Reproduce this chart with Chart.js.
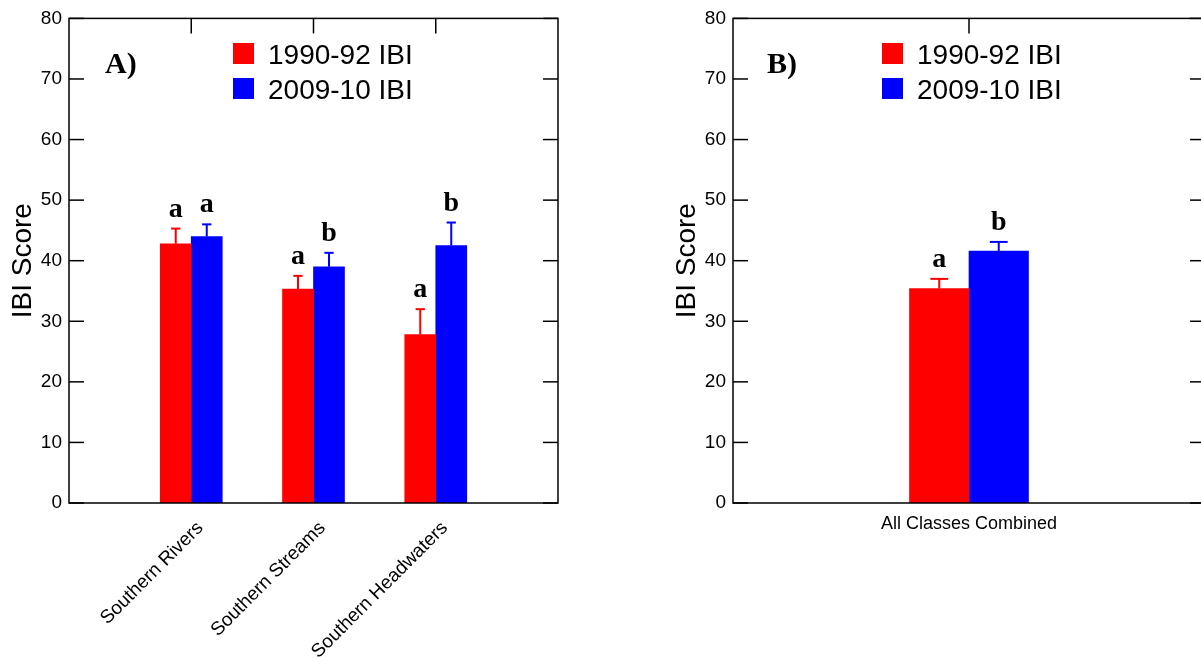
<!DOCTYPE html>
<html>
<head>
<meta charset="utf-8">
<script src="https://cdn.jsdelivr.net/npm/chart.js@4"></script>
<style>
  body { margin: 0; overflow: hidden; background: #fff; width: 1201px; height: 657px; }
  .panel { position: absolute; top: 0; }
</style>
</head>
<body>
<div class="panel" style="left:0"><canvas id="chartA" width="600" height="657"></canvas></div>
<div class="panel" style="left:600px"><canvas id="chartB" width="620" height="657"></canvas></div>
<script>
/* ---------- DATA ---------- */
const seriesLabels = ['1990-92 IBI', '2009-10 IBI'];
const yTicks = [0, 10, 20, 30, 40, 50, 60, 70, 80];

// Panel A: by stream class
const classesA = ['Southern Rivers', 'Southern Streams', 'Southern Headwaters'];
const ibi1990A = [42.8, 35.3, 27.8];
const ibi2009A = [44.0, 39.0, 42.5];
const err1990A = [2.5, 2.2, 4.2];
const err2009A = [2.0, 2.3, 3.8];
const sig1990A = ['a', 'a', 'a'];
const sig2009A = ['a', 'b', 'b'];

// Panel B: all classes combined
const classesB = ['All Classes Combined'];
const ibi1990B = [35.4];
const ibi2009B = [41.6];
const err1990B = [1.6];
const err2009B = [1.5];
const sig1990B = ['a'];
const sig2009B = ['b'];

const RED = '#ff0000';
const BLUE = '#0000ff';
const SANS = "'Liberation Sans', Arial, sans-serif";
const SERIF = "'Liberation Serif', 'Times New Roman', serif";

Chart.defaults.font.family = SANS;
Chart.defaults.color = '#000';

/* ---------- FRAME, ERROR BARS, LETTERS, LEGEND ---------- */
const figureMarks = {
  id: 'figureMarks',
  afterDatasetsDraw(chart, args, opts) {
    const { ctx, chartArea: a, scales: { x, y } } = chart;
    const line = (x1, y1, x2, y2) => {
      ctx.beginPath(); ctx.moveTo(x1, y1); ctx.lineTo(x2, y2); ctx.stroke();
    };
    ctx.save();

    // error bars + significance letters
    chart.data.datasets.forEach((ds, di) => {
      const meta = chart.getDatasetMeta(di);
      meta.data.forEach((bar, i) => {
        const v = ds.data[i];
        if (v == null) return;
        const { x: bx, width } = bar.getProps(['x', 'width'], true);
        const top = y.getPixelForValue(v + ds.errors[i]);
        const base = y.getPixelForValue(v);
        const cap = width * 0.15;
        ctx.strokeStyle = ds.backgroundColor;
        ctx.lineWidth = 2;
        line(bx, base, bx, top);
        line(bx - cap, top, bx + cap, top);
        ctx.fillStyle = '#000';
        ctx.font = 'bold 28px ' + SERIF;
        ctx.textAlign = 'center';
        ctx.textBaseline = 'alphabetic';
        ctx.fillText(ds.letters[i], bx, top - 12);
      });
    });

    // box frame with inward ticks
    ctx.strokeStyle = '#000';
    ctx.lineWidth = 1.5;
    ctx.strokeRect(a.left, a.top, a.right - a.left, a.bottom - a.top);
    y.ticks.forEach(t => {
      const py = y.getPixelForValue(t.value);
      line(a.left, py, a.left + 15, py);
      line(a.right, py, a.right - 15, py);
    });
    opts.topTicks.forEach(i => {
      const px = x.getPixelForValue(i);
      line(px, a.top, px, a.top + 15);
    });

    // panel letter
    ctx.fillStyle = '#000';
    ctx.font = 'bold 30px ' + SERIF;
    ctx.textAlign = 'left';
    ctx.textBaseline = 'alphabetic';
    ctx.fillText(opts.panel, a.left + opts.panelDx, 73);

    // legend
    ctx.font = '28px ' + SANS;
    chart.data.datasets.forEach((ds, di) => {
      const ly = 43 + di * 35;
      ctx.fillStyle = ds.backgroundColor;
      ctx.fillRect(a.left + opts.legendDx, ly, 21, 21);
      ctx.fillStyle = '#000';
      ctx.fillText(ds.label, a.left + opts.legendDx + 35, ly + 21);
    });
    ctx.restore();
  }
};

function yScale() {
  return {
    min: 0, max: 80,
    afterBuildTicks: s => { s.ticks = yTicks.map(v => ({ value: v })); },
    afterFit: s => { s.width = 69; },
    grid: { display: false, drawTicks: false },
    border: { display: false },
    ticks: { font: { size: 19 }, padding: 7 },
    title: { display: true, text: 'IBI Score', font: { size: 28 }, padding: { top: 6, bottom: 0 } }
  };
}

function makeChart(id, labels, d1990, d2009, e1990, e2009, s1990, s2009, barW, xOpts, pad, plugOpts) {
  return new Chart(document.getElementById(id), {
    type: 'bar',
    data: {
      labels,
      datasets: [
        { label: seriesLabels[0], data: d1990, errors: e1990, letters: s1990,
          backgroundColor: RED, barThickness: barW, borderWidth: 0 },
        { label: seriesLabels[1], data: d2009, errors: e2009, letters: s2009,
          backgroundColor: BLUE, barThickness: barW, borderWidth: 0 }
      ]
    },
    options: {
      responsive: false,
      animation: false,
      layout: { padding: pad },
      plugins: { legend: { display: false }, tooltip: { enabled: false }, figureMarks: plugOpts },
      scales: {
        x: Object.assign({
          grid: { display: false, drawTicks: false },
          border: { display: false },
          afterFit: s => { s.height = 154; }
        }, xOpts),
        y: yScale()
      }
    },
    plugins: [figureMarks]
  });
}

// Panel A: padded category axis so the three groups sit at 1/4, 2/4, 3/4
const padNull = arr => [null, ...arr, null];
makeChart('chartA',
  ['', ...classesA, ''],
  padNull(ibi1990A), padNull(ibi2009A), padNull(err1990A), padNull(err2009A),
  padNull(sig1990A), padNull(sig2009A),
  31,
  { offset: false, ticks: { minRotation: 45, maxRotation: 45, autoSkip: false, font: { size: 19 }, padding: 14, labelOffset: 9 } },
  { left: 0, right: 42, top: 16, bottom: 0 },
  { topTicks: [1, 2, 3], panel: 'A)', panelDx: 36, legendDx: 164 }
);

makeChart('chartB',
  classesB,
  ibi1990B, ibi2009B, err1990B, err2009B, sig1990B, sig2009B,
  59.5,
  { offset: true, ticks: { font: { size: 18 }, padding: 10 } },
  { left: 64, right: 15, top: 16, bottom: 0 },
  { topTicks: [0], panel: 'B)', panelDx: 34, legendDx: 149 }
);
</script>
</body>
</html>
